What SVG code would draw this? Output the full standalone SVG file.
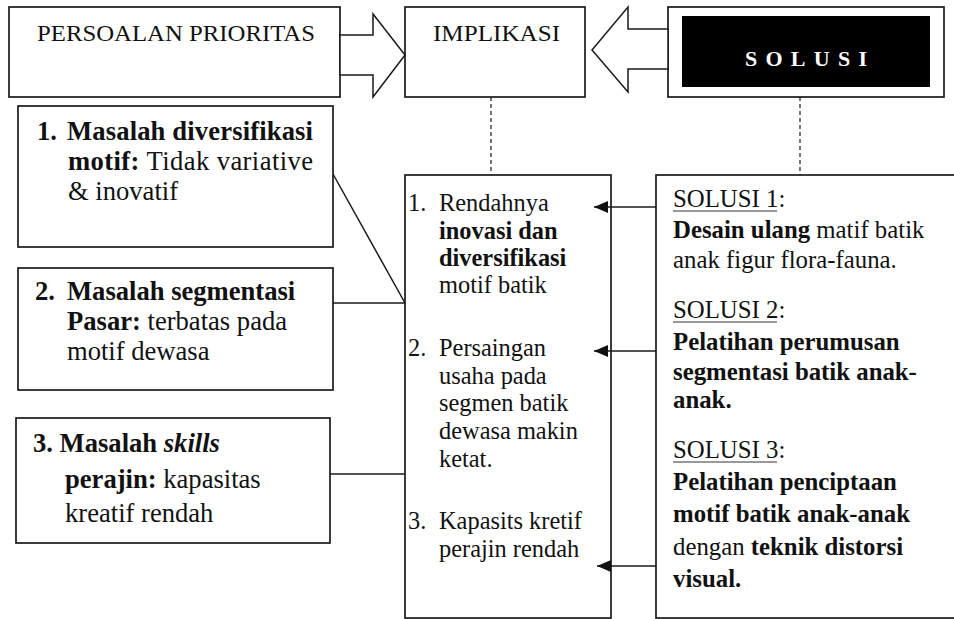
<svg xmlns="http://www.w3.org/2000/svg" width="954" height="619" viewBox="0 0 954 619">
<defs>
<style>
.box{fill:#fff;stroke:#1a1a1a;stroke-width:1.7}
.ln{fill:none;stroke:#1a1a1a;stroke-width:1.5}
.dash{fill:none;stroke:#1a1a1a;stroke-width:1.2;stroke-dasharray:4 3}
.blk{fill:#fff;stroke:#1a1a1a;stroke-width:1.5;stroke-linejoin:miter}
.t{font-family:"Liberation Serif","Times New Roman",serif;fill:#111}
.b{font-weight:bold}
.i{font-style:italic}
.h{font-size:24px}
.l{font-size:26.6px}
.m{font-size:24.4px}
.r{font-size:24.8px}
.ul{stroke:#777;stroke-width:1.4}
</style>
<marker id="ah" viewBox="0 0 14 12" refX="14" refY="6" markerWidth="14" markerHeight="12" markerUnits="userSpaceOnUse" orient="auto">
<path d="M0,0 L14,6 L0,12 z" fill="#111"/>
</marker>
</defs>
<rect width="954" height="619" fill="#fff"/>

<g id="persoalan">
<rect class="box" x="9" y="7" width="331" height="90"/>
<text class="t h" x="37" y="41" textLength="278" lengthAdjust="spacingAndGlyphs">PERSOALAN PRIORITAS</text>
</g>

<g id="implikasi">
<rect class="box" x="405" y="7" width="180" height="90"/>
<text class="t h" x="433" y="41" textLength="127" lengthAdjust="spacingAndGlyphs">IMPLIKASI</text>
</g>

<g id="solusi-header">
<rect class="box" x="668" y="7" width="276" height="90"/>
<rect x="682" y="16" width="248" height="71" fill="#000"/>
<text class="t b" x="745" y="66" font-size="22" style="fill:#fff" textLength="122" lengthAdjust="spacing">SOLUSI</text>
</g>

<g id="masalah1">
<rect class="box" x="18" y="106" width="315" height="141"/>
<text class="t l b" x="37" y="140">1.</text>
<text class="t l b" x="67" y="140" textLength="246" lengthAdjust="spacing">Masalah diversifikasi</text>
<text class="t l" x="68" y="170" textLength="245" lengthAdjust="spacing"><tspan class="b">motif:</tspan> Tidak variative</text>
<text class="t l" x="68" y="200">&amp; inovatif</text>
</g>

<g id="masalah2">
<rect class="box" x="18" y="268" width="315" height="122"/>
<text class="t l b" x="35" y="300">2.</text>
<text class="t l b" x="67" y="300">Masalah segmentasi</text>
<text class="t l" x="67" y="330"><tspan class="b">Pasar:</tspan> terbatas pada</text>
<text class="t l" x="67" y="360">motif dewasa</text>
</g>

<g id="masalah3">
<rect class="box" x="16" y="418" width="314" height="125"/>
<text class="t l b" x="33" y="452">3. Masalah <tspan class="i">skills</tspan></text>
<text class="t l" x="65" y="488"><tspan class="b">perajin:</tspan> kapasitas</text>
<text class="t l" x="65" y="522">kreatif rendah</text>
</g>

<g id="implikasi-list">
<rect class="box" x="405" y="175" width="206" height="443"/>
<text class="t m" x="408" y="211">1.</text>
<text class="t m" x="439" y="211">Rendahnya</text>
<text class="t m b" x="439" y="239">inovasi dan</text>
<text class="t m b" x="439" y="266">diversifikasi</text>
<text class="t m" x="439" y="293">motif batik</text>
<text class="t m" x="408" y="356">2.</text>
<text class="t m" x="439" y="356">Persaingan</text>
<text class="t m" x="439" y="384">usaha pada</text>
<text class="t m" x="439" y="411">segmen batik</text>
<text class="t m" x="439" y="439">dewasa makin</text>
<text class="t m" x="439" y="467">ketat.</text>
<text class="t m" x="408" y="529">3.</text>
<text class="t m" x="439" y="529">Kapasits kretif</text>
<text class="t m" x="439" y="557">perajin rendah</text>
</g>

<g id="solusi-list">
<rect class="box" x="656" y="175" width="310" height="443"/>
<text class="t r" x="673" y="207">SOLUSI 1:</text>
<line class="ul" x1="673" y1="211" x2="777" y2="211"/>
<text class="t r" x="673" y="238"><tspan class="b">Desain ulang</tspan> matif batik</text>
<text class="t r" x="673" y="268">anak figur flora-fauna.</text>
<text class="t r" x="673" y="318">SOLUSI 2:</text>
<line class="ul" x1="673" y1="322" x2="777" y2="322"/>
<text class="t r b" x="673" y="350">Pelatihan perumusan</text>
<text class="t r b" x="673" y="380">segmentasi batik anak-</text>
<text class="t r b" x="673" y="408">anak.</text>
<text class="t r" x="673" y="458">SOLUSI 3:</text>
<line class="ul" x1="673" y1="462" x2="777" y2="462"/>
<text class="t r b" x="673" y="490">Pelatihan penciptaan</text>
<text class="t r b" x="673" y="522">motif batik anak-anak</text>
<text class="t r" x="673" y="555">dengan <tspan class="b">teknik distorsi</tspan></text>
<text class="t r b" x="673" y="587">visual.</text>
</g>

<g id="connectors">
<polygon class="blk" points="340,35 373,35 373,14 405,55 373,97 373,75 340,75"/>
<polygon class="blk" points="668,29 628,29 628,7 592,50 628,92 628,69 668,69"/>
<line class="dash" x1="491" y1="97" x2="491" y2="175"/>
<line class="dash" x1="800" y1="97" x2="800" y2="175"/>
<line class="ln" x1="333" y1="174" x2="405" y2="303"/>
<line class="ln" x1="333" y1="303" x2="405" y2="303"/>
<line class="ln" x1="330" y1="474" x2="405" y2="474"/>
<line class="ln" x1="656" y1="207" x2="594" y2="207" marker-end="url(#ah)"/>
<line class="ln" x1="656" y1="351" x2="594" y2="351" marker-end="url(#ah)"/>
<line class="ln" x1="656" y1="566" x2="597" y2="566" marker-end="url(#ah)"/>
</g>
</svg>
